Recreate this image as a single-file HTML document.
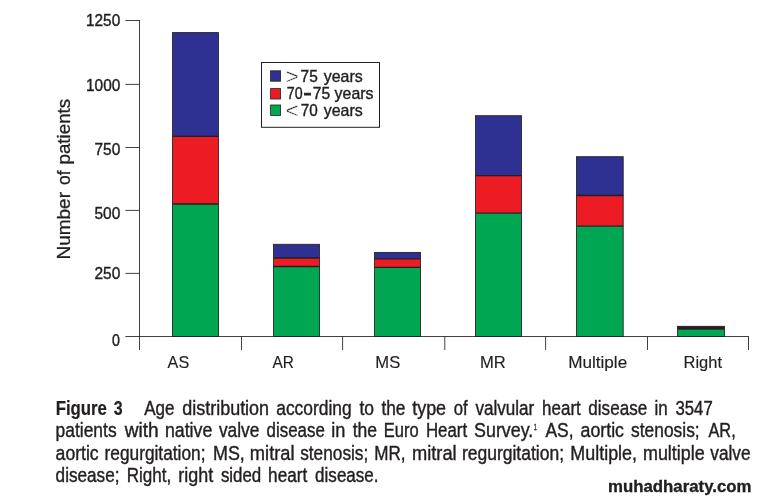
<!DOCTYPE html>
<html>
<head>
<meta charset="utf-8">
<title>Figure 3</title>
<style>
html,body{margin:0;padding:0;background:#fff;}
body{width:758px;height:500px;overflow:hidden;font-family:"Liberation Sans",sans-serif;}
svg{display:block;}
text{font-family:"Liberation Sans",sans-serif;fill:#231f20;}
</style>
</head>
<body>
<svg width="758" height="500" viewBox="0 0 758 500">
<rect width="758" height="500" fill="#ffffff"/>

<!-- bars -->
<rect x="172.5" y="32.6" width="46.0" height="103.7" fill="#2e3192"/>
<rect x="172.5" y="136.3" width="46.0" height="67.7" fill="#ed1c24"/>
<rect x="172.5" y="204.0" width="46.0" height="132.5" fill="#00a651"/>
<rect x="172.5" y="32.6" width="46.0" height="303.9" fill="none" stroke="#231f20" stroke-width="0.85"/>
<path d="M172.5 136.3H218.5 M172.5 204.0H218.5" stroke="#231f20" stroke-width="1.3" fill="none"/>
<rect x="273.5" y="244.3" width="46.0" height="13.7" fill="#2e3192"/>
<rect x="273.5" y="258.0" width="46.0" height="8.5" fill="#ed1c24"/>
<rect x="273.5" y="266.5" width="46.0" height="70.0" fill="#00a651"/>
<rect x="273.5" y="244.3" width="46.0" height="92.2" fill="none" stroke="#231f20" stroke-width="0.85"/>
<path d="M273.5 258.0H319.5 M273.5 266.5H319.5" stroke="#231f20" stroke-width="1.3" fill="none"/>
<rect x="374.5" y="252.4" width="46.0" height="6.5" fill="#2e3192"/>
<rect x="374.5" y="258.9" width="46.0" height="8.4" fill="#ed1c24"/>
<rect x="374.5" y="267.3" width="46.0" height="69.2" fill="#00a651"/>
<rect x="374.5" y="252.4" width="46.0" height="84.1" fill="none" stroke="#231f20" stroke-width="0.85"/>
<path d="M374.5 258.9H420.5 M374.5 267.3H420.5" stroke="#231f20" stroke-width="1.3" fill="none"/>
<rect x="475.5" y="115.7" width="46.0" height="59.9" fill="#2e3192"/>
<rect x="475.5" y="175.6" width="46.0" height="37.6" fill="#ed1c24"/>
<rect x="475.5" y="213.2" width="46.0" height="123.3" fill="#00a651"/>
<rect x="475.5" y="115.7" width="46.0" height="220.8" fill="none" stroke="#231f20" stroke-width="0.85"/>
<path d="M475.5 175.6H521.5 M475.5 213.2H521.5" stroke="#231f20" stroke-width="1.3" fill="none"/>
<rect x="576.5" y="156.7" width="46.7" height="38.8" fill="#2e3192"/>
<rect x="576.5" y="195.5" width="46.7" height="30.7" fill="#ed1c24"/>
<rect x="576.5" y="226.2" width="46.7" height="110.3" fill="#00a651"/>
<rect x="576.5" y="156.7" width="46.7" height="179.8" fill="none" stroke="#231f20" stroke-width="0.85"/>
<path d="M576.5 195.5H623.2 M576.5 226.2H623.2" stroke="#231f20" stroke-width="1.3" fill="none"/>
<rect x="677.5" y="326.3" width="47.0" height="3.6" fill="#231f20"/>
<rect x="677.5" y="329.9" width="47.0" height="6.6" fill="#00a651"/>
<rect x="677.5" y="326.3" width="47.0" height="10.2" fill="none" stroke="#231f20" stroke-width="0.85"/>

<!-- axes -->
<g stroke="#231f20" stroke-width="0.85" fill="none">
  <path d="M139.5 20V350"/>
  <path d="M125.4 336.5H749"/>
  <path d="M125.4 20.5H139.5M125.4 84.4H139.5M125.4 147.5H139.5M125.4 210.4H139.5M125.4 273.4H139.5"/>
  <path d="M241.5 336.5V350M342.6 336.5V350M444.8 336.5V350M545.6 336.5V350M647.5 336.5V350M748.5 336.5V350"/>
</g>

<!-- legend -->
<rect x="261.5" y="62.5" width="118" height="64.8" fill="#fff" stroke="#231f20" stroke-width="1"/>
<g stroke="#231f20" stroke-width="0.8">
  <rect x="270.6" y="70.8" width="10" height="10.4" fill="#2e3192"/>
  <rect x="270.6" y="88.6" width="10" height="10.4" fill="#ed1c24"/>
  <rect x="270.6" y="105" width="10" height="10.4" fill="#00a651"/>
</g>


<!-- all text -->
<text transform="translate(86.02 25.7) scale(0.9848 1)" font-size="15.6" stroke="#231f20" stroke-width="0.4">1250</text>
<text transform="translate(86.01 90.6) scale(0.9907 1)" font-size="15.6" stroke="#231f20" stroke-width="0.4">1000</text>
<text transform="translate(94.50 155.0) scale(0.9945 1)" font-size="15.6" stroke="#231f20" stroke-width="0.4">750</text>
<text transform="translate(94.50 218.9) scale(0.9945 1)" font-size="15.6" stroke="#231f20" stroke-width="0.4">500</text>
<text transform="translate(94.50 279.0) scale(0.9945 1)" font-size="15.6" stroke="#231f20" stroke-width="0.4">250</text>
<text transform="translate(112.10 346.3) scale(0.9111 1)" font-size="15.6" stroke="#231f20" stroke-width="0.4">0</text>
<text transform="translate(69.7 259.56) rotate(-90) scale(1.0551 1)" font-size="18.0" stroke="#231f20" stroke-width="0.3">Number</text>
<text transform="translate(69.7 185.00) rotate(-90) scale(0.9681 1)" font-size="18.0" stroke="#231f20" stroke-width="0.3">of</text>
<text transform="translate(69.7 164.54) rotate(-90) scale(1.0428 1)" font-size="18.0" stroke="#231f20" stroke-width="0.3">patients</text>
<text transform="translate(167.60 368.1) scale(1.0110 1)" font-size="16.0" stroke="#231f20" stroke-width="0.15">AS</text>
<text transform="translate(272.40 368.1) scale(0.9644 1)" font-size="16.0" stroke="#231f20" stroke-width="0.15">AR</text>
<text transform="translate(375.36 368.1) scale(1.0390 1)" font-size="16.0" stroke="#231f20" stroke-width="0.15">MS</text>
<text transform="translate(479.96 368.1) scale(1.0374 1)" font-size="16.0" stroke="#231f20" stroke-width="0.15">MR</text>
<text transform="translate(568.13 368.1) scale(1.0713 1)" font-size="16.0" stroke="#231f20" stroke-width="0.15">Multiple</text>
<text transform="translate(683.57 368.1) scale(1.0296 1)" font-size="16.0" stroke="#231f20" stroke-width="0.15">Right</text>
<text transform="translate(285.44 83.8) scale(1.0636 1)" font-size="21.5" stroke="#ffffff" stroke-width="0.5">&gt;</text>
<text transform="translate(300.60 81.5) scale(0.9554 1)" font-size="16.2" stroke="#231f20" stroke-width="0.4">75</text>
<text transform="translate(323.70 81.5) scale(0.9851 1)" font-size="16.2" stroke="#231f20" stroke-width="0.4">years</text>
<text transform="translate(286.80 99.0) scale(0.8776 1)" font-size="16.2" stroke="#231f20" stroke-width="0.4">70</text>
<text transform="translate(304.00 98.6) scale(0.7778 1)" font-size="16.2" font-weight="bold" stroke="#231f20" stroke-width="1.0">–</text>
<text transform="translate(312.80 99.0) scale(0.9665 1)" font-size="16.2" stroke="#231f20" stroke-width="0.4">75</text>
<text transform="translate(334.60 99.0) scale(0.9825 1)" font-size="16.2" stroke="#231f20" stroke-width="0.4">years</text>
<text transform="translate(285.44 118.0) scale(1.0636 1)" font-size="21.5" stroke="#ffffff" stroke-width="0.5">&lt;</text>
<text transform="translate(300.80 115.6) scale(0.9443 1)" font-size="16.2" stroke="#231f20" stroke-width="0.4">70</text>
<text transform="translate(323.70 115.6) scale(0.9851 1)" font-size="16.2" stroke="#231f20" stroke-width="0.4">years</text>
<text transform="translate(55.63 414.8) scale(0.8712 1)" font-size="19.3" font-weight="bold" stroke="#231f20" stroke-width="0.2">Figure</text>
<text transform="translate(113.80 414.8) scale(0.8273 1)" font-size="19.3" font-weight="bold" stroke="#231f20" stroke-width="0.2">3</text>
<text transform="translate(144.20 414.8) scale(0.8814 1)" font-size="19.3" stroke="#231f20" stroke-width="0.4">Age</text>
<text transform="translate(182.20 414.8) scale(0.9317 1)" font-size="19.3" stroke="#231f20" stroke-width="0.4">distribution</text>
<text transform="translate(276.20 414.8) scale(0.9025 1)" font-size="19.3" stroke="#231f20" stroke-width="0.4">according</text>
<text transform="translate(359.50 414.8) scale(0.9051 1)" font-size="19.3" stroke="#231f20" stroke-width="0.4">to</text>
<text transform="translate(381.40 414.8) scale(0.8972 1)" font-size="19.3" stroke="#231f20" stroke-width="0.4">the</text>
<text transform="translate(412.20 414.8) scale(0.9294 1)" font-size="19.3" stroke="#231f20" stroke-width="0.4">type</text>
<text transform="translate(453.70 414.8) scale(0.8671 1)" font-size="19.3" stroke="#231f20" stroke-width="0.4">of</text>
<text transform="translate(475.40 414.8) scale(0.8848 1)" font-size="19.3" stroke="#231f20" stroke-width="0.4">valvular</text>
<text transform="translate(542.12 414.8) scale(0.8786 1)" font-size="19.3" stroke="#231f20" stroke-width="0.4">heart</text>
<text transform="translate(588.30 414.8) scale(0.8854 1)" font-size="19.3" stroke="#231f20" stroke-width="0.4">disease</text>
<text transform="translate(654.42 414.8) scale(0.8808 1)" font-size="19.3" stroke="#231f20" stroke-width="0.4">in</text>
<text transform="translate(675.50 414.8) scale(0.8679 1)" font-size="19.3" stroke="#231f20" stroke-width="0.4">3547</text>
<text transform="translate(55.60 437.0) scale(0.9030 1)" font-size="19.3" stroke="#231f20" stroke-width="0.4">patients</text>
<text transform="translate(124.79 437.0) scale(0.9894 1)" font-size="19.3" stroke="#231f20" stroke-width="0.4">with</text>
<text transform="translate(164.88 437.0) scale(0.9210 1)" font-size="19.3" stroke="#231f20" stroke-width="0.4">native</text>
<text transform="translate(218.90 437.0) scale(0.8987 1)" font-size="19.3" stroke="#231f20" stroke-width="0.4">valve</text>
<text transform="translate(266.60 437.0) scale(0.8747 1)" font-size="19.3" stroke="#231f20" stroke-width="0.4">disease</text>
<text transform="translate(331.26 437.0) scale(0.9410 1)" font-size="19.3" stroke="#231f20" stroke-width="0.4">in</text>
<text transform="translate(352.70 437.0) scale(0.9087 1)" font-size="19.3" stroke="#231f20" stroke-width="0.4">the</text>
<text transform="translate(383.75 437.0) scale(0.8537 1)" font-size="19.3" stroke="#231f20" stroke-width="0.4">Euro</text>
<text transform="translate(425.93 437.0) scale(0.8719 1)" font-size="19.3" stroke="#231f20" stroke-width="0.4">Heart</text>
<text transform="translate(474.10 437.0) scale(0.9253 1)" font-size="19.3" stroke="#231f20" stroke-width="0.4">Survey.</text>
<text transform="translate(545.50 437.0) scale(0.9017 1)" font-size="19.3" stroke="#231f20" stroke-width="0.4">AS,</text>
<text transform="translate(580.50 437.0) scale(0.9219 1)" font-size="19.3" stroke="#231f20" stroke-width="0.4">aortic</text>
<text transform="translate(631.10 437.0) scale(0.9005 1)" font-size="19.3" stroke="#231f20" stroke-width="0.4">stenosis;</text>
<text transform="translate(708.50 437.0) scale(0.8446 1)" font-size="19.3" stroke="#231f20" stroke-width="0.4">AR,</text>
<text transform="translate(55.60 459.8) scale(0.9135 1)" font-size="19.3" stroke="#231f20" stroke-width="0.4">aortic</text>
<text transform="translate(104.50 459.8) scale(0.8967 1)" font-size="19.3" stroke="#231f20" stroke-width="0.4">regurgitation;</text>
<text transform="translate(212.97 459.8) scale(0.9273 1)" font-size="19.3" stroke="#231f20" stroke-width="0.4">MS,</text>
<text transform="translate(249.85 459.8) scale(0.9477 1)" font-size="19.3" stroke="#231f20" stroke-width="0.4">mitral</text>
<text transform="translate(300.20 459.8) scale(0.8939 1)" font-size="19.3" stroke="#231f20" stroke-width="0.4">stenosis;</text>
<text transform="translate(374.31 459.8) scale(0.8852 1)" font-size="19.3" stroke="#231f20" stroke-width="0.4">MR,</text>
<text transform="translate(411.95 459.8) scale(0.9477 1)" font-size="19.3" stroke="#231f20" stroke-width="0.4">mitral</text>
<text transform="translate(461.89 459.8) scale(0.9076 1)" font-size="19.3" stroke="#231f20" stroke-width="0.4">regurgitation;</text>
<text transform="translate(570.37 459.8) scale(0.9274 1)" font-size="19.3" stroke="#231f20" stroke-width="0.4">Multiple,</text>
<text transform="translate(642.97 459.8) scale(0.9287 1)" font-size="19.3" stroke="#231f20" stroke-width="0.4">multiple</text>
<text transform="translate(710.30 459.8) scale(0.8941 1)" font-size="19.3" stroke="#231f20" stroke-width="0.4">valve</text>
<text transform="translate(55.60 482.3) scale(0.8899 1)" font-size="19.3" stroke="#231f20" stroke-width="0.4">disease;</text>
<text transform="translate(126.72 482.3) scale(0.8831 1)" font-size="19.3" stroke="#231f20" stroke-width="0.4">Right,</text>
<text transform="translate(178.27 482.3) scale(0.9313 1)" font-size="19.3" stroke="#231f20" stroke-width="0.4">right</text>
<text transform="translate(220.90 482.3) scale(0.8750 1)" font-size="19.3" stroke="#231f20" stroke-width="0.4">sided</text>
<text transform="translate(268.11 482.3) scale(0.8901 1)" font-size="19.3" stroke="#231f20" stroke-width="0.4">heart</text>
<text transform="translate(315.10 482.3) scale(0.8842 1)" font-size="19.3" stroke="#231f20" stroke-width="0.4">disease.</text>
<text transform="translate(533.90 430.4) scale(0.5000 1)" font-size="9.6" stroke="#231f20" stroke-width="0.4">1</text>
<text transform="translate(608.02 492.3) scale(0.9774 1)" font-size="17.2" font-weight="bold" stroke="#0a0a0a" stroke-width="0.3" fill="#0a0a0a">muhadharaty.com</text>
</svg>
</body>
</html>
